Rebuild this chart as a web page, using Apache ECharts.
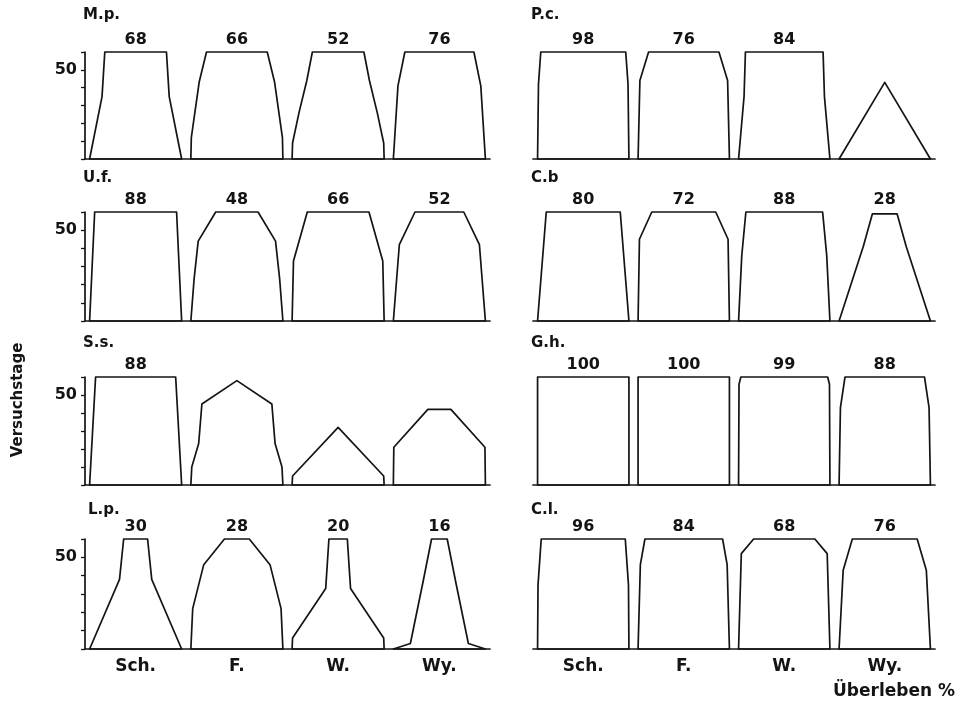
<!DOCTYPE html>
<html><head><meta charset="utf-8">
<script src="https://cdn.jsdelivr.net/npm/echarts@6/dist/echarts.min.js"></script>
<style>html,body{margin:0;padding:0;background:#fff}#c{width:971px;height:704px}</style>
</head><body><div id="c"></div>
<script>
// ---- data ----
const categories = ['Sch.', 'F.', 'W.', 'Wy.'];
const panelNames = ['M.p.', 'P.c.', 'U.f.', 'C.b', 'S.s.', 'G.h.', 'L.p.', 'C.l.'];
const yTickLabels = [50];
const yAxisTitle = 'Versuchstage';
const xAxisTitle = 'Überleben %';

// final survival % printed above each shape (null = none)
const mpFinal = [68, 66, 52, 76];
const pcFinal = [98, 76, 84, null];
const ufFinal = [88, 48, 66, 52];
const cbFinal = [80, 72, 88, 28];
const ssFinal = [88, null, null, null];
const ghFinal = [100, 100, 99, 88];
const lpFinal = [30, 28, 20, 16];
const clFinal = [96, 84, 68, 76];

// survival curves: [experiment day, survival %] for Sch., F., W., Wy.
const mpCurves = [
  [[0, 100], [35, 73], [60, 67]],
  [[0, 100], [12, 99], [43, 82], [60, 66]],
  [[0, 100], [9, 99], [26, 85], [44, 68], [60, 56]],
  [[0, 100], [41, 90], [60, 75]]
];
const pcCurves = [
  [[0, 100], [42, 98], [60, 93]],
  [[0, 100], [44, 96], [60, 77]],
  [[0, 100], [35, 88], [60, 85]],
  [[0, 100], [43, 0]]
];
const ufCurves = [
  [[0, 100], [60, 89]],
  [[0, 100], [23, 93], [44, 84], [60, 46]],
  [[0, 100], [33, 97], [60, 67]],
  [[0, 100], [42, 87], [60, 53]]
];
const cbCurves = [
  [[0, 100], [60, 81]],
  [[0, 100], [45, 97], [60, 70]],
  [[0, 100], [36, 93], [60, 84]],
  [[0, 100], [41, 47], [59, 27]]
];
const ssCurves = [
  [[0, 100], [60, 87]],
  [[0, 100], [10, 98], [23, 83], [45, 76], [58, 0]],
  [[0, 100], [5, 99], [32, 0]],
  [[0, 100], [21, 99], [42, 25]]
];
const ghCurves = [
  [[0, 100], [60, 100]],
  [[0, 100], [60, 100]],
  [[0, 100], [56, 99], [60, 95]],
  [[0, 100], [43, 97], [60, 87]]
];
const lpCurves = [
  [[0, 100], [38, 35], [60, 26]],
  [[0, 100], [22, 96], [46, 72], [60, 27]],
  [[0, 100], [6, 99], [33, 27], [60, 20]],
  [[0, 100], [3, 63], [36, 36], [60, 17]]
];
const clCurves = [
  [[0, 100], [35, 99], [60, 92]],
  [[0, 100], [46, 95], [60, 85]],
  [[0, 100], [52, 94], [60, 67]],
  [[0, 100], [43, 91], [60, 71]]
];

const panelCurves = [mpCurves, pcCurves, ufCurves, cbCurves, ssCurves, ghCurves, lpCurves, clCurves];
const panelFinals = [mpFinal, pcFinal, ufFinal, cbFinal, ssFinal, ghFinal, lpFinal, clFinal];

// ---- layout / style ----
const yMax = 60, yStep = 10;
const slot = 110;               // x-units per category slot (shape width = survival %)
const xMax = slot * categories.length;
const FONT = '"DejaVu Sans", sans-serif';
const INK = '#141414';
const colLeft = [85, 533], colWidth = [405, 402];
const rowTop = [52, 212, 377, 539], rowHeight = [107, 109, 108, 110];
const nameY = [15, 178, 343, 510];
const nameX = [[83, 531], [83, 531], [83, 531], [88, 531]];

function makeRender(curves, finals) {
  return function (params, api) {
    const i = api.value(0);
    const pts = curves[i];
    const cx = slot / 2 + slot * i;
    const leftSide = pts.map(([d, s]) => api.coord([cx - s / 2, d]));
    const rightSide = pts.slice().reverse().map(([d, s]) => api.coord([cx + s / 2, d]));
    const children = [{
      type: 'polygon',
      shape: { points: leftSide.concat(rightSide) },
      style: { fill: 'none', stroke: INK, lineWidth: 1.7, lineJoin: 'round' }
    }];
    if (finals[i] != null) {
      const top = api.coord([cx, yMax]);
      children.push({
        type: 'text', x: top[0], y: top[1] - 4,
        style: { text: String(finals[i]), fill: INK, fontFamily: FONT, fontWeight: 'bold', fontSize: 16,
                 align: 'center', verticalAlign: 'bottom' }
      });
    }
    return { type: 'group', children };
  };
}

const grid = [], xAxis = [], yAxis = [], series = [], graphic = [];
panelNames.forEach((name, p) => {
  const row = Math.floor(p / 2), col = p % 2;
  grid.push({ left: colLeft[col], top: rowTop[row], width: colWidth[col], height: rowHeight[row], containLabel: false });
  xAxis.push({
    gridIndex: p, type: 'value', min: 0, max: xMax, interval: slot / 2,
    axisLine: { show: true, lineStyle: { color: INK, width: 1.7 } },
    axisTick: { show: false }, splitLine: { show: false },
    axisLabel: {
      show: row === 3, margin: 9, color: INK, fontFamily: FONT, fontWeight: 'bold', fontSize: 17,
      formatter: v => { const k = (v - slot / 2) / slot; return (Number.isInteger(k) && k >= 0 && k < categories.length) ? categories[k] : ''; }
    }
  });
  yAxis.push({
    gridIndex: p, type: 'value', min: 0, max: yMax, interval: yStep, show: col === 0,
    axisLine: { show: true, lineStyle: { color: INK, width: 1.7 } },
    axisTick: { show: true, length: 4, lineStyle: { color: INK, width: 1.3 } },
    splitLine: { show: false },
    axisLabel: { margin: 8, color: INK, fontFamily: FONT, fontWeight: 'bold', fontSize: 16,
                 formatter: v => yTickLabels.includes(v) ? String(v) : '' }
  });
  series.push({
    type: 'custom', xAxisIndex: p, yAxisIndex: p, silent: true, clip: false,
    data: panelCurves[p].map((c, i) => [i]),
    renderItem: makeRender(panelCurves[p], panelFinals[p])
  });
  graphic.push({
    type: 'text', x: nameX[row][col], y: nameY[row],
    style: { text: name, fill: INK, fontFamily: FONT, fontWeight: 'bold', fontSize: 15, verticalAlign: 'middle' }
  });
});
graphic.push({
  type: 'text', x: 18, y: 400, rotation: Math.PI / 2,
  style: { text: yAxisTitle, fill: INK, fontFamily: FONT, fontWeight: 'bold', fontSize: 15, align: 'center', verticalAlign: 'middle' }
});
graphic.push({
  type: 'text', x: 833, y: 692,
  style: { text: xAxisTitle, fill: INK, fontFamily: FONT, fontWeight: 'bold', fontSize: 17, align: 'left', verticalAlign: 'middle' }
});

const chart = echarts.init(document.getElementById('c'), null, { renderer: 'canvas' });
chart.setOption({ animation: false, backgroundColor: '#fff', grid, xAxis, yAxis, series, graphic });
</script></body></html>
